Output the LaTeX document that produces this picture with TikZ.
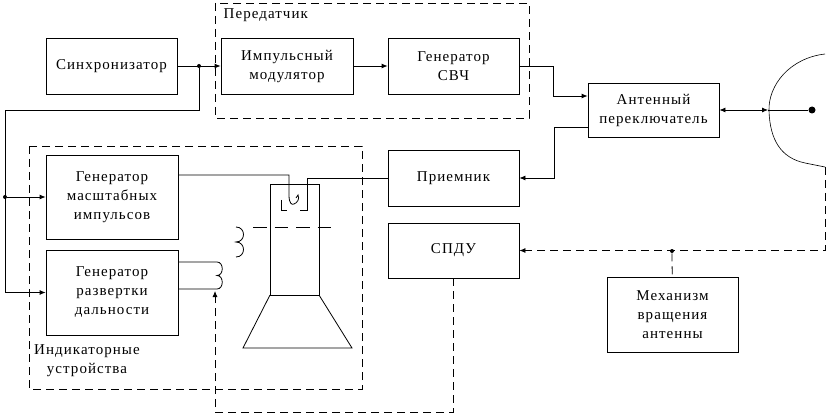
\documentclass[tikz,border=0pt]{standalone}
\usepackage{fontspec}
\setmainfont{Liberation Serif}[LetterSpace=7]
\usepackage{tikz}
\usetikzlibrary{arrows.meta,calc,positioning}

\begin{document}
\begin{tikzpicture}[x=1pt,y=-1pt,line width=0.8pt]
	\tikzstyle{block}=[draw, rectangle, align=center, inner sep=0pt, font=\fontsize{15}{19}\selectfont]
	\tikzstyle{sig}=[-{Latex[length=6pt,width=5pt]}]
	\tikzstyle{frame}=[dash pattern=on 8pt off 5pt]
	\tikzstyle{dot}=[circle, fill, inner sep=0pt, minimum size=4pt]
	\useasboundingbox (0,0) rectangle (827,414);
	% dashed groups
	\draw[frame] (215,3) rectangle (529,118);
	\node[anchor=west, font=\fontsize{15}{19}\selectfont] (txlabel) at (220,15) {Передатчик};
	\draw[frame] (29,146) rectangle (362,389);
	\node[align=center, font=\fontsize{15}{19}\selectfont] (indlabel) at (87,361) {Индикаторные\\устройства};
	% blocks
	\node[block, minimum width=131pt, minimum height=56pt] (sync) at (111.5,66) {Синхронизатор};
	\node[block, minimum width=132pt, minimum height=56pt] (mod) at (287,66) {Импульсный\\модулятор};
	\node[block, minimum width=131pt, minimum height=56pt] (gen) at (453.5,66) {Генератор\\СВЧ};
	\node[block, minimum width=131pt, minimum height=54pt] (sw) at (653.5,110) {Антенный\\переключатель};
	\node[block, minimum width=131pt, minimum height=56pt] (rx) at (453.5,178) {Приемник};
	\node[block, minimum width=131pt, minimum height=55pt] (spdu) at (453.5,250.5) {СПДУ};
	\node[block, minimum width=131pt, minimum height=75pt] (mech) at (672.5,314.5) {Механизм\\вращения\\антенны};
	\node[block, minimum width=132pt, minimum height=84pt] (gmi) at (112,197) {Генератор\\масштабных\\импульсов};
	\node[block, minimum width=132pt, minimum height=85pt] (grd) at (112,292.5) {Генератор\\развертки\\дальности};
	% synchronisation
	\draw[sig] (sync) -- (mod);
	\node[dot] (j1) at (199,66) {};
	\draw[sig] (j1) -- (199,110) -- (5,110) |- (grd);
	\node[dot] (j2) at (5,197) {};
	\draw[sig] (j2) -- (gmi);
	% transmitter and switch
	\draw[sig] (mod) -- (gen);
	\draw[sig] (gen) -- (553,66) |- ([yshift=14pt]sw.west);
	\draw[sig] ([yshift=-17pt]sw.west) -- (554,127) |- (rx);
	% antenna
	\coordinate (feed) at (768,110);
	\draw[{Latex[length=6pt,width=5pt]}-{Latex[length=6pt,width=5pt]}] (sw) -- (feed);
	\node[dot, minimum size=7pt] (focus) at (812,110) {};
	\draw (feed) -- (focus);
	\draw[line width=0.6pt] (825,54) .. controls (790,58) and (768,85) .. (769,111)
		.. controls (770,140) and (781,158) .. (805,163) -- (825,167) coordinate (rot);
	\draw[frame, sig] (rot) |- (spdu);
	\node[dot] (j3) at (672,251) {};
	\draw[frame] (j3) -- (mech);
	\coordinate (sweep) at (215,291);
	\draw[frame, sig] (spdu.south) -- (453.5,412) -| (sweep);
	% tube
	\draw (270,184) rectangle (319,295);
	\draw (270,295) -- (243,348) -- (352,348) -- (319,295);
	\draw[dash pattern=on 13.5pt off 8pt] (253,227) -- (333,227);
	\draw (236,227) .. controls (246,227) and (246,242) .. (236,242)
		.. controls (246,242) and (246,257) .. (236,257);
	\draw ([yshift=22pt]gmi.east) -- (289,175) -- (289,195)
		.. controls (289,204) and (292,205) .. (294,204)
		.. controls (297,203) and (300,199) .. (298,195) -- (296,198);
	\draw (281,200) -- (281,210) -- (287,210);
	\draw (300,210) -- (307,210) -- (307,178) -- (rx);
	\draw ([yshift=30.5pt]grd.east) -- (217,262)
		.. controls (224,262) and (224,275.5) .. (217,275.5)
		.. controls (224,275.5) and (224,289) .. (217,289) -- ([yshift=3.5pt]grd.east);
\end{tikzpicture}
\end{document}
